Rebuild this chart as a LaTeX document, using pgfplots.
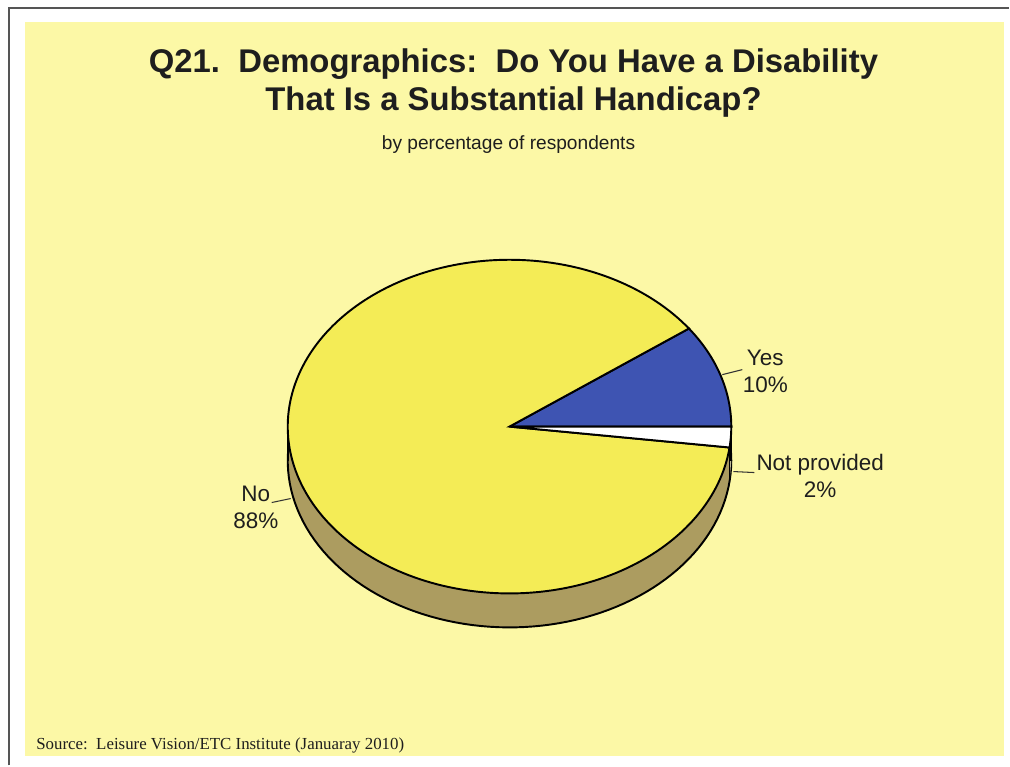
\documentclass[border=0pt]{standalone}
\usepackage{pgfplots}
\pgfplotsset{compat=1.18}
\usepackage{pgfplotstable}
\usepackage{fontspec}
\setmainfont{Liberation Sans}
\newfontfamily\serifsrc{Liberation Serif}
\definecolor{bgyellow}{RGB}{252,248,166}
\definecolor{pieyellow}{RGB}{244,236,86}
\definecolor{pieblue}{RGB}{62,84,178}
\definecolor{pieside}{RGB}{172,156,96}
\definecolor{npside}{RGB}{190,184,150}
\definecolor{framecol}{RGB}{85,85,85}
\definecolor{txt}{RGB}{30,30,30}

\pgfplotstableread[col sep=comma]{
label,pct
Yes,10
No,88
Not provided,2
}\piedata

\begin{document}%
\begin{tikzpicture}
\pgfplotstablegetelem{0}{pct}\of\piedata \let\pYes\pgfplotsretval
\pgfplotstablegetelem{1}{pct}\of\piedata \let\pNo\pgfplotsretval
\pgfplotstablegetelem{2}{pct}\of\piedata \let\pNP\pgfplotsretval
\pgfmathsetmacro\aA{0}
\pgfmathsetmacro\aB{\pYes*3.6}
\pgfmathsetmacro\aC{(\pYes+\pNo)*3.6}
\pgfmathsetmacro\aD{(\pYes+\pNo+\pNP)*3.6}
\pgfmathsetmacro\xC{510+222*cos(\aC)}
\pgfmathsetmacro\yC{427-167*sin(\aC)}
\pgfmathsetmacro\yCb{\yC+34}
\begin{axis}[width=20.2cm,height=15.32cm,scale only axis,
  xmin=0,xmax=1010,ymin=0,ymax=766,y dir=reverse,hide axis,clip=false]
\fill[white] (axis cs:0,0) rectangle (axis cs:1010,766);
\fill[bgyellow] (axis cs:25,22) rectangle (axis cs:1005,757);
\draw[framecol, line width=1.1pt] (axis cs:9,766) -- (axis cs:9,8) -- (axis cs:1010,8);
% side of the pie
\addplot[fill=pieside, draw=black, line width=1.1pt, domain=0:360, samples=160]
  ({510+222*cos(x)},{461-167*sin(x)}) -- cycle;
\fill[pieside] (axis cs:288,427) rectangle (axis cs:732,461);
\fill[npside] (axis cs:\xC,\yC) -- (axis cs:732,427) -- (axis cs:732,461) -- (axis cs:\xC,\yCb) -- cycle;
\draw[black, line width=1.1pt] (axis cs:288,427) -- (axis cs:288,461);
\draw[black, line width=1.1pt] (axis cs:732,427) -- (axis cs:732,461);
\draw[black, line width=0.6pt] (axis cs:\xC,\yC) -- (axis cs:\xC,\yCb);
% top slices
\addplot[fill=pieblue, draw=black, line width=1.1pt, domain=\aA:\aB, samples=40]
  ({510+222*cos(x)},{427-167*sin(x)}) -- (axis cs:510,427) -- cycle;
\addplot[fill=pieyellow, draw=black, line width=1.1pt, domain=\aB:\aC, samples=200]
  ({510+222*cos(x)},{427-167*sin(x)}) -- (axis cs:510,427) -- cycle;
\addplot[fill=white, draw=black, line width=1.1pt, domain=\aC:\aD, samples=8]
  ({510+222*cos(x)},{427-167*sin(x)}) -- (axis cs:510,427) -- cycle;
% leader lines
\draw[black!80, line width=0.6pt] (axis cs:723,375) -- (axis cs:743,370);
\draw[black!80, line width=0.6pt] (axis cs:734,472) -- (axis cs:755,473);
\draw[black!80, line width=0.6pt] (axis cs:272,503) -- (axis cs:291,499);
% labels
\node[align=center, text=txt, font=\fontsize{12.8}{15.4}\selectfont] at (axis cs:766,372) {Yes\\10\%};
\node[align=center, text=txt, font=\fontsize{12.8}{15.4}\selectfont] at (axis cs:821,476) {Not provided\\2\%};
\node[align=center, text=txt, font=\fontsize{12.8}{15.4}\selectfont] at (axis cs:256,508) {No\\88\%};
% titles
\node[align=center, text=txt, font=\bfseries\fontsize{18.7}{21.6}\selectfont] at (axis cs:514,83)
  {Q21.\ \ Demographics:\ \ Do You Have a Disability\\That Is a Substantial Handicap?};
\node[text=txt, font=\fontsize{10.9}{13}\selectfont] at (axis cs:509,145) {by percentage of respondents};
\node[anchor=base west, inner sep=0pt, text=txt, font=\serifsrc\fontsize{9.6}{11}\selectfont] at (axis cs:36,750)
  {Source:\ \ Leisure Vision/ETC Institute (Januaray 2010)};
\end{axis}
\end{tikzpicture}%
\end{document}
